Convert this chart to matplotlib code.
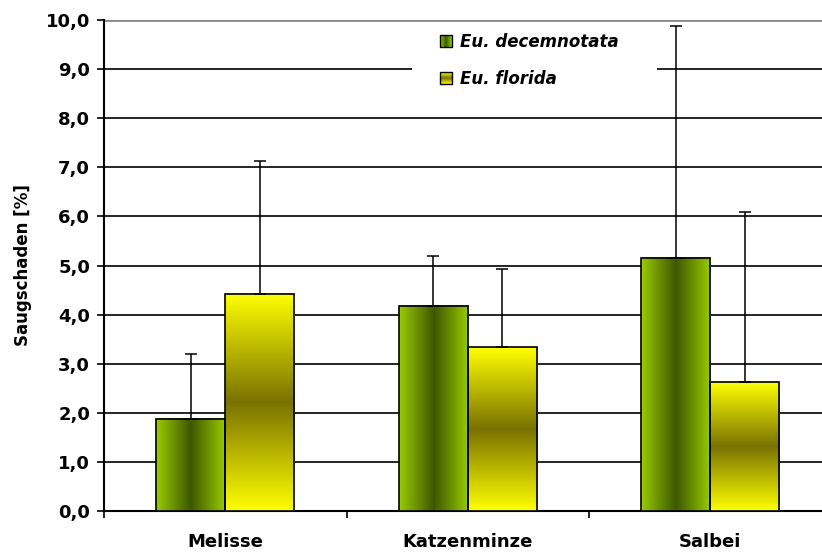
import numpy as np
import matplotlib
matplotlib.use("Agg")
import matplotlib.pyplot as plt
from matplotlib.colors import LinearSegmentedColormap
from matplotlib.patches import Rectangle, Patch
from matplotlib.legend_handler import HandlerBase

# data
categories = ["Melisse", "Katzenminze", "Salbei"]
series_names = ["Eu. decemnotata", "Eu. florida"]
decemnotata = [1.88, 4.18, 5.16]
decemnotata_err = [1.32, 1.02, 4.72]
florida = [4.42, 3.34, 2.62]
florida_err = [2.71, 1.59, 3.46]
ytick_values = [0, 1, 2, 3, 4, 5, 6, 7, 8, 9, 10]
ytick_labels = ["0,0", "1,0", "2,0", "3,0", "4,0", "5,0", "6,0", "7,0", "8,0", "9,0", "10,0"]

green_cols = ["#9acc00", "#3c5800", "#9acc00"]
yellow_cols = ["#ffff00", "#797200", "#ffff00"]
green_cmap = LinearSegmentedColormap.from_list("grn", green_cols)
yellow_cmap = LinearSegmentedColormap.from_list("yel", yellow_cols)

plt.rcParams["font.family"] = "DejaVu Sans"
plt.rcParams["font.weight"] = "bold"

fig = plt.figure(figsize=(8.22, 5.54), dpi=100)
ax = fig.add_axes([104 / 822, 1 - 511 / 554, 1 - 104 / 822, (511 - 20) / 554])

x = np.arange(len(categories))
width = 0.285
ramp = np.linspace(0, 1, 256)


def grad_bars(xpos, heights, cmap, horizontal):
    bars = ax.bar(xpos, heights, width, facecolor="none", edgecolor="black",
                  linewidth=1.2, zorder=4)
    for b in bars:
        x0, w, h = b.get_x(), b.get_width(), b.get_height()
        img = ramp[None, :] if horizontal else ramp[:, None]
        ax.imshow(img, cmap=cmap, extent=(x0, x0 + w, 0, h), aspect="auto",
                  interpolation="bilinear", zorder=3)
    return bars


grad_bars(x - width / 2, decemnotata, green_cmap, True)
grad_bars(x + width / 2, florida, yellow_cmap, False)

ax.errorbar(x - width / 2, decemnotata, yerr=[np.zeros(3), decemnotata_err],
            fmt="none", ecolor="black", elinewidth=1.1, capsize=4.3, capthick=1.1, zorder=5)
ax.errorbar(x + width / 2, florida, yerr=[np.zeros(3), florida_err],
            fmt="none", ecolor="black", elinewidth=1.1, capsize=4.3, capthick=1.1, zorder=5)

ax.set_ylim(0, 10)
ax.set_xlim(-0.5, -0.5 + (822 - 104) / 242.5)

ax.set_yticks(ytick_values)
ax.set_yticklabels(ytick_labels, fontsize=13, fontweight="bold")
ax.tick_params(axis="y", direction="out", length=5, width=1.2, pad=5)

ax.set_xticks([-0.5, 0.5, 1.5])
ax.set_xticklabels([])
ax.tick_params(axis="x", which="major", direction="out", length=5, width=1.2)
ax.set_xticks(x, minor=True)
ax.set_xticklabels(categories, minor=True, fontsize=13, fontweight="bold")
ax.tick_params(axis="x", which="minor", length=0, pad=16)

ax.grid(axis="y", color="black", linewidth=1.2, zorder=1)
ax.set_axisbelow(True)
ax.get_ygridlines()[-1].set_color("#888888")
ax.get_ygridlines()[-1].set_linewidth(2.0)
ax.get_ygridlines()[-1].set_zorder(3)

for side in ["top", "right"]:
    ax.spines[side].set_visible(False)
ax.spines["left"].set_linewidth(1.5)
ax.spines["bottom"].set_linewidth(1.5)
ax.spines["left"].set_zorder(6)

ax.set_ylabel("Saugschaden [%]", fontsize=12, fontweight="bold", labelpad=10)

# white box behind the legend
ax.add_patch(Rectangle(((412 - 104) / 718, (511 - 105) / 491), (657 - 412) / 718,
                       (105 - 23) / 491, transform=ax.transAxes, facecolor="white",
                       edgecolor="none", zorder=2))


class GradHandler(HandlerBase):
    def __init__(self, cols, horizontal):
        super().__init__()
        self.cols = cols
        self.horizontal = horizontal

    def create_artists(self, legend, orig_handle, xdescent, ydescent, width, height,
                       fontsize, trans):
        cmap = LinearSegmentedColormap.from_list("h", self.cols)
        n = 12
        arts = []
        for i in range(n):
            c = cmap((i + 0.5) / n)
            if self.horizontal:
                r = Rectangle((-xdescent + i * width / n, -ydescent), width / n + 0.3, height,
                              facecolor=c, edgecolor="none", transform=trans)
            else:
                r = Rectangle((-xdescent, -ydescent + i * height / n), width, height / n + 0.3,
                              facecolor=c, edgecolor="none", transform=trans)
            arts.append(r)
        arts.append(Rectangle((-xdescent, -ydescent), width, height, facecolor="none",
                              edgecolor="black", linewidth=1.0, transform=trans))
        return arts


h1 = Patch(label=series_names[0])
h2 = Patch(label=series_names[1])
leg = ax.legend([h1, h2], series_names, loc="upper left",
                bbox_to_anchor=((440 - 104) / 718, (511 - 33) / 491),
                frameon=False, borderaxespad=0, borderpad=0,
                handlelength=0.72, handleheight=0.72, handletextpad=0.5,
                labelspacing=1.15,
                prop={"size": 12, "weight": "bold", "style": "italic"},
                handler_map={h1: GradHandler(green_cols, True),
                             h2: GradHandler(yellow_cols, False)})
leg.set_zorder(7)

fig.savefig("out.png", dpi=100)
